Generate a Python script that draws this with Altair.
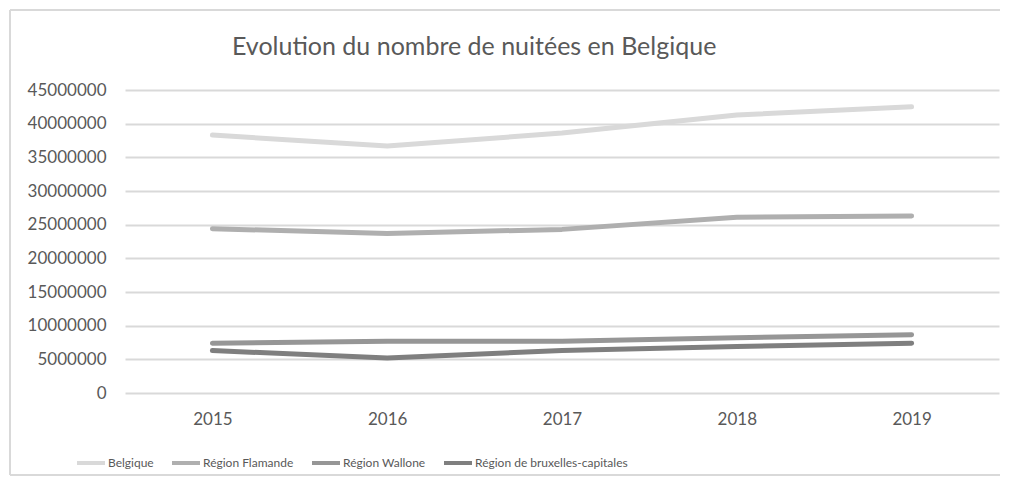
import altair as alt
import pandas as pd

years = ["2015", "2016", "2017", "2018", "2019"]
series = ["Belgique", "Région Flamande", "Région Wallone", "Région de bruxelles-capitales"]
belgique = [38300000, 36700000, 38600000, 41300000, 42500000]
flamande = [24400000, 23700000, 24300000, 26100000, 26300000]
wallone = [7400000, 7700000, 7700000, 8200000, 8650000]
bruxelles = [6300000, 5200000, 6300000, 6900000, 7400000]
colors = ["#d9d9d9", "#afafaf", "#969696", "#7f7f7f"]
y_ticks = [0, 5000000, 10000000, 15000000, 20000000, 25000000, 30000000, 35000000, 40000000, 45000000]
title_text = "Evolution du nombre de nuitées en Belgique"

rows = []
for name, vals in zip(series, [belgique, flamande, wallone, bruxelles]):
    for yr, v in zip(years, vals):
        rows.append({"Année": yr, "Série": name, "Valeur": v})
df = pd.DataFrame(rows)

TXT = "#595959"
FONT = "Lato"

lines = alt.Chart(df).mark_line(strokeWidth=5, strokeCap="round", strokeJoin="round").encode(
    x=alt.X("Année:O", sort=years,
            scale=alt.Scale(type="point", padding=0.5),
            axis=alt.Axis(title=None, labelAngle=0, domain=False, ticks=False, grid=False,
                          labelPadding=18, labelFont=FONT, labelFontSize=17, labelColor=TXT)),
    y=alt.Y("Valeur:Q",
            scale=alt.Scale(domain=[0, 45000000], nice=False),
            axis=alt.Axis(title=None, values=y_ticks, format="d", domain=False, ticks=False,
                          grid=True, gridColor="#d9d9d9", gridWidth=2,
                          labelPadding=19, labelFont=FONT, labelFontSize=17, labelColor=TXT)),
    color=alt.Color("Série:N", sort=series,
                    scale=alt.Scale(domain=series, range=colors),
                    legend=alt.Legend(title=None, orient="none", direction="horizontal",
                                      legendX=-50, legendY=357,
                                      symbolType="stroke", symbolSize=784, symbolStrokeWidth=4,
                                      labelFont=FONT, labelFontSize=12, labelLimit=400,
                                      labelColor=TXT, labelOffset=1, columnPadding=10)),
)

edge = pd.DataFrame({"k": [0]})
left_edge = alt.Chart(edge).mark_rule(stroke="#d9d9d9", strokeWidth=2).encode(
    x=alt.value(-115), y=alt.value(-80), y2=alt.value(385))
top_edge = alt.Chart(edge).mark_rule(stroke="#d9d9d9", strokeWidth=2).encode(
    x=alt.value(-115), x2=alt.value(875), y=alt.value(-80))
bottom_edge = alt.Chart(edge).mark_rule(stroke="#d9d9d9", strokeWidth=2).encode(
    x=alt.value(-115), x2=alt.value(875), y=alt.value(385))

chart = alt.layer(left_edge, top_edge, bottom_edge, lines).properties(
    width=874, height=303,
    padding={"left": 117, "top": 82, "right": 7, "bottom": 84},
    autosize=alt.AutoSizeParams(type="none"),
    title=alt.TitleParams(title_text, anchor="start", frame="group", dx=107, dy=51,
                          font=FONT, fontSize=25, fontWeight="normal", color=TXT, offset=0),
).configure_view(strokeWidth=0)

chart.save("out.html", embed_options={"renderer": "svg", "actions": False})
